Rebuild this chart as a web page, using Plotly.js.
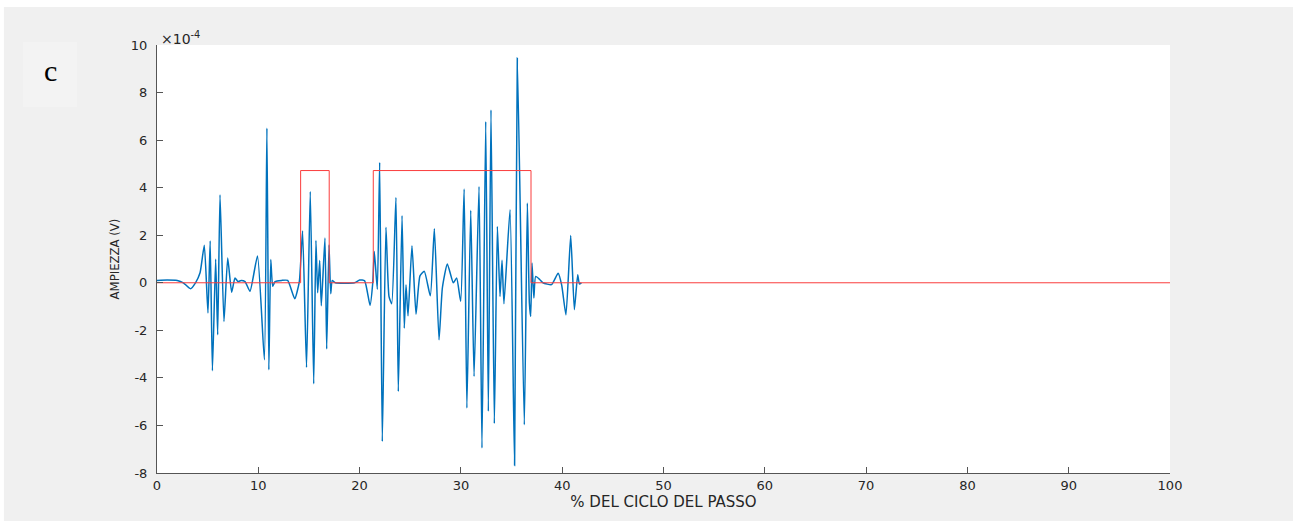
<!DOCTYPE html>
<html>
<head>
<meta charset="utf-8">
<script src="https://cdn.plot.ly/plotly-3.0.1.min.js"></script>
<style>
  html, body { margin: 0; padding: 0; background: #ffffff; }
  #chart { width: 1293px; height: 521px; }
</style>
</head>
<body>
<div id="chart"></div>
<script>
// % del ciclo del passo (x) and amplitude in units of 1e-4 V (y)
const emgX = [0, 1.0, 2.0, 2.6, 3.3, 3.8, 4.25, 4.67, 5.03, 5.25, 5.47, 5.79, 5.99, 6.22, 6.61, 6.98, 7.37, 7.7, 8.0, 8.3, 8.69,
  9.18, 9.92, 10.6, 10.85, 11.04, 11.23, 11.42, 11.65, 12.3, 12.9, 13.6, 14.05, 14.37, 14.76, 15.13, 15.47, 15.69, 15.86,
  16.06, 16.22, 16.58, 16.75, 16.98, 17.15, 17.3, 17.6, 19.5, 20.0, 20.5, 21.03, 21.3, 21.45, 21.75, 21.98, 22.24, 22.6,
  22.9, 23.17, 23.59, 23.82, 24.19, 24.41, 24.58, 24.78, 25.17, 25.57, 25.96, 26.39, 26.98, 27.38, 27.84, 28.17, 28.66,
  29.25, 29.58, 29.98, 30.32, 30.59, 30.97, 31.3, 31.79, 32.08, 32.45, 32.71, 32.97, 33.3, 33.6, 33.86, 34.06, 34.25,
  34.85, 35.3, 35.57, 36.26, 36.56, 36.76, 36.89, 37.02, 37.2, 37.38, 37.8, 38.1, 38.95, 39.6, 39.95, 40.37, 40.84,
  41.2, 41.53, 41.7, 41.9];
const emgY = [0.1, 0.12, 0.1, 0.0, -0.25, 0.0, 0.42, 1.58, -1.27, 1.76, -3.7, 1.0, -2.19, 3.7, -1.63, 1.04, -0.4, 0.2, 0.05, 0.1, 0.05,
  -0.36, 1.13, -3.24, 6.5, -3.66, 0.98, -0.15, 0.05, 0.1, 0.1, -0.67, 0.05, 2.18, -3.56, 3.84, -4.25, 1.78, -0.42,
  0.94, -0.97, 1.88, -2.78, 1.6, -0.46, 0.1, 0.0, 0.0, 0.12, 0.08, -0.95, 0.0, 1.32, -0.27, 5.06, -6.67, 2.34,
  -0.57, -0.88, 3.59, -4.57, 2.83, -1.91, -0.08, -1.39, 1.56, -1.32, 0.29, 0.48, -0.55, 2.27, -2.4, -0.22, 0.79,
  0.0, 0.2, -0.78, 3.94, -5.27, 3.05, -3.94, 4.05, -6.95, 6.78, -5.4, 7.27, -5.92, 2.37, -0.58, 0.95, -0.88,
  3.07, -7.68, 9.45, -5.97, 3.35, -0.85, -1.42, 0.83, -0.64, 0.27, 0.13, 0.0, -0.08, 0.4, -0.1, -1.35, 1.99,
  -1.13, 0.34, -0.05, 0.0];

// activation step (red): switch points and level
const stepX = [0, 14.18, 17.0, 21.35, 36.92, 100];
const stepY = [0, 4.72, 0, 4.72, 0, 0];

const xTicks = [0, 10, 20, 30, 40, 50, 60, 70, 80, 90, 100];
const yTicks = [-8, -6, -4, -2, 0, 2, 4, 6, 8, 10];

const panelLabel = 'c';
const xTitle = '% DEL CICLO DEL PASSO';
const yTitle = 'AMPIEZZA (V)';
const exponentLabel = '×10<sup>-4</sup>';

const tickFont = { family: 'DejaVu Sans, Liberation Sans, Arial, sans-serif', size: 13, color: '#262626' };

const traces = [
  {
    x: emgX, y: emgY, type: 'scatter', mode: 'lines',
    line: { color: '#0072BD', width: 1.5, shape: 'spline', smoothing: 0.5 },
    hoverinfo: 'skip', showlegend: false
  },
  {
    x: stepX, y: stepY, type: 'scatter', mode: 'lines',
    line: { color: 'rgb(250,60,60)', width: 1, shape: 'hv' },
    hoverinfo: 'skip', showlegend: false
  }
];

const layout = {
  width: 1293, height: 521,
  margin: { l: 157, r: 123, t: 45, b: 48, pad: 0 },
  paper_bgcolor: '#f0f0f0',
  plot_bgcolor: '#ffffff',
  showlegend: false,
  xaxis: {
    range: [0, 100], tickvals: xTicks, ticktext: xTicks.map(String),
    showgrid: false, zeroline: false, showline: true, linecolor: '#555555', linewidth: 1,
    ticks: 'inside', ticklen: 6, tickcolor: '#555555', tickwidth: 1,
    tickfont: tickFont, mirror: false,
    title: { text: xTitle, font: { family: 'DejaVu Sans, Liberation Sans, Arial, sans-serif', size: 15, color: '#262626' }, standoff: 0 }
  },
  yaxis: {
    range: [-8, 10], tickvals: yTicks, ticktext: yTicks.map(String),
    showgrid: false, zeroline: false, showline: true, linecolor: '#555555', linewidth: 1,
    ticks: 'inside', ticklen: 6, tickcolor: '#555555', tickwidth: 1,
    tickfont: tickFont, mirror: false, ticklabelstandoff: 6,
    title: { text: yTitle, font: { family: 'Liberation Sans Narrow, DejaVu Sans Condensed, Arial Narrow, sans-serif', size: 13, color: '#262626' }, standoff: 8 }
  },
  shapes: [
    { type: 'rect', xref: 'paper', yref: 'paper', x0: -0.2, x1: 1.2, y0: 1.0888, y1: 1.2, fillcolor: '#ffffff', line: { width: 0 }, layer: 'below' },
    { type: 'rect', xref: 'paper', yref: 'paper', x0: -0.2, x1: -0.1511, y0: -0.2, y1: 1.2, fillcolor: '#ffffff', line: { width: 0 }, layer: 'below' },
    { type: 'rect', xref: 'paper', yref: 'paper', x0: -0.1323, x1: -0.0790, y0: 0.8551, y1: 1.0070, fillcolor: '#f3f3f3', line: { width: 0 }, layer: 'below' }
  ],
  annotations: [
    { text: panelLabel, xref: 'paper', yref: 'paper', x: -0.1056, y: 0.9400, xanchor: 'center', yanchor: 'middle',
      showarrow: false, font: { family: 'Liberation Serif, Times New Roman, serif', size: 30, color: '#000000' } },
    { text: exponentLabel, xref: 'paper', yref: 'paper', x: 0.002, y: 1.016, xanchor: 'left', yanchor: 'middle',
      showarrow: false, font: { family: 'DejaVu Sans, Liberation Sans, Arial, sans-serif', size: 14, color: '#262626' } }
  ]
};

Plotly.newPlot('chart', traces, layout, { staticPlot: true, displayModeBar: false });
</script>
</body>
</html>
